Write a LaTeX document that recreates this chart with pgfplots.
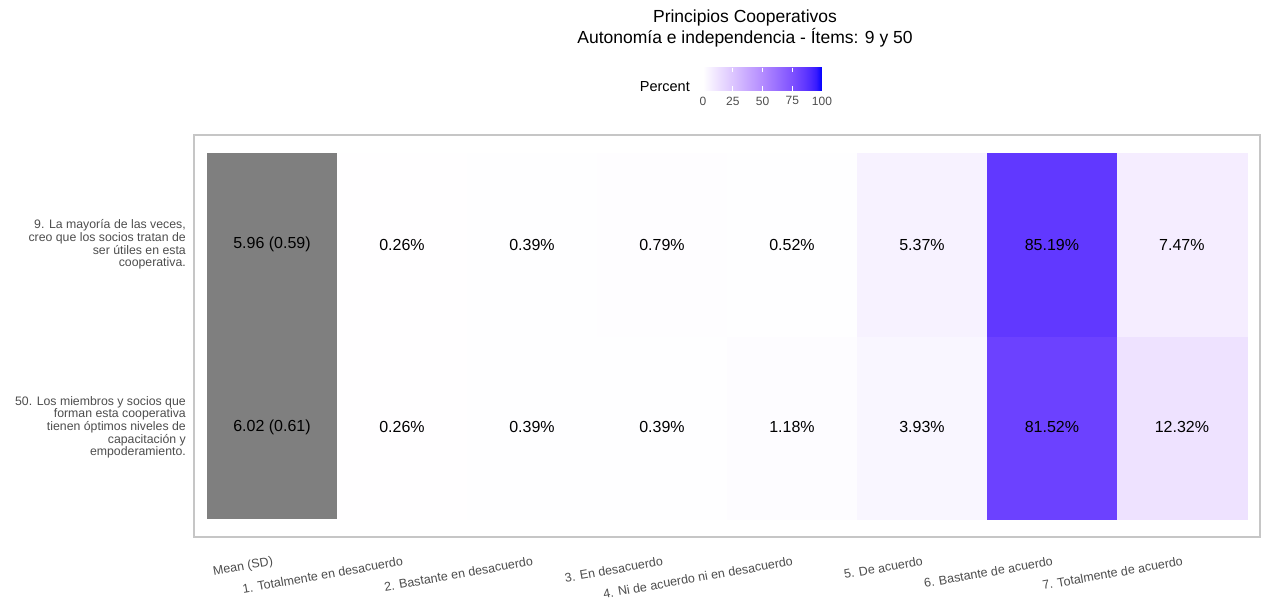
\documentclass[border=0pt]{standalone}
\usepackage{fontspec}
\setmainfont{Liberation Sans}
\usepackage{pgfplots}
\pgfplotsset{compat=1.18}
\usepackage{pgfplotstable}

\definecolor{axistext}{HTML}{4D4D4D}
\definecolor{meanfill}{HTML}{7F7F7F}
\definecolor{panelborder}{HTML}{C6C6C6}

% white -> blue gradient (interpolated in Lab space, sampled)
\pgfplotsset{
  colormap={whiteblue}{
    rgb255(0cm)=(255,255,255)
    rgb255(5cm)=(248,243,255)
    rgb255(10cm)=(241,231,255)
    rgb255(25cm)=(220,197,255)
    rgb255(50cm)=(179,139,255)
    rgb255(75cm)=(126,81,255)
    rgb255(85cm)=(98,57,255)
    rgb255(90cm)=(80,43,255)
    rgb255(95cm)=(55,27,255)
    rgb255(100cm)=(0,0,255)
  },
  /pgf/number format/assume math mode=true,
}

% percentage of answers per item (y=1: item 9, y=0: item 50)
\pgfplotstableread{
x y v
1 0 0.26
2 0 0.39
3 0 0.39
4 0 1.18
5 0 3.93
6 0 81.52
7 0 12.32
1 1 0.26
2 1 0.39
3 1 0.79
4 1 0.52
5 1 5.37
6 1 85.19
7 1 7.47
}\pcttable

% mean and standard deviation per item
\pgfplotstableread{
x y m sd
0 1 5.96 0.59
0 0 6.02 0.61
}\meantable

\newcommand\cellfont{\fontsize{16}{19}\selectfont}
\newcommand\yfont{\fontsize{12.3}{12.6}\selectfont}
\newcommand\xfont{\fontsize{12.5}{15}\selectfont}
\newcommand\numfmt{\pgfmathprintnumber[fixed, fixed zerofill, precision=2, assume math mode=true]}

\begin{document}
\begin{tikzpicture}
\path[use as bounding box] (0,0) rectangle (1264pt,-610pt);

\begin{axis}[
  at={(194pt,-537pt)}, anchor=south west,
  scale only axis, width=1066pt, height=402pt,
  xmin=-0.6, xmax=7.6, ymin=-0.6, ymax=1.6,
  axis line style={draw=panelborder, line width=1.3pt},
  xtick=\empty, ytick=\empty,
  clip=false,
  colormap name=whiteblue,
  point meta min=0, point meta max=100,
  colorbar horizontal,
  colorbar/width=23pt,
  colorbar style={
    at={(parent axis.north west)}, anchor=north west,
    xshift=509pt, yshift=76pt,
    scale only axis, width=119pt,
    axis line style={draw=none},
    xtick={0,25,50,75,100},
    xticklabels={0,25,50,75,100},
    xticklabel style={font=\fontsize{12}{14}\selectfont, text=axistext, inner sep=0pt},
    xticklabel shift=6pt,
    tick align=inside,
    xtick pos=both,
    major tick length=4.6pt,
    tick style={draw=white, line width=0.6pt},
    ytick=\empty,
  },
]
% mean column
\addplot[draw=none, fill=meanfill] coordinates {(-0.5,-0.5) (0.5,-0.5) (0.5,1.5) (-0.5,1.5)} -- cycle;

% percentage tiles
\addplot[matrix plot*, mesh/cols=7, mesh/rows=2, point meta=\thisrow{v}]
  table[x=x, y=y] {\pcttable};

% percentage labels
\addplot[only marks, mark=*, mark size=0pt, mark options={draw=none, fill=none},
  point meta=\thisrow{v},
  nodes near coords={\numfmt{\pgfplotspointmeta}\%},
  every node near coord/.style={anchor=center, font=\cellfont, text=black}]
  table[x=x, y=y] {\pcttable};

% mean (SD) labels
\addplot[only marks, mark=*, mark size=0pt, mark options={draw=none, fill=none},
  point meta=\thisrow{m},
  visualization depends on={\thisrow{sd} \as \sdval},
  nodes near coords={\numfmt{\pgfplotspointmeta} (\numfmt{\sdval})},
  every node near coord/.style={anchor=center, font=\cellfont, text=black}]
  table[x=x, y=y] {\meantable};

% item labels
\node[anchor=east, align=right, font=\yfont, text=axistext, inner sep=0pt]
  at ([xshift=-8pt]axis cs:-0.6,1)
  {9. La mayoría de las veces,\\creo que los socios tratan de\\ser útiles en esta\\cooperativa.};
\node[anchor=east, align=right, font=\yfont, text=axistext, inner sep=0pt]
  at ([xshift=-8pt]axis cs:-0.6,0)
  {50. Los miembros y socios que\\forman esta cooperativa\\tienen óptimos niveles de\\capacitación y\\empoderamiento.};

% answer category labels
\tikzset{catlab/.style={anchor=north east, rotate=10, font=\xfont, text=axistext, inner sep=0pt}}
\node[catlab] at ([yshift=-19pt]axis cs:0,-0.6) {Mean (SD)};
\node[catlab] at ([yshift=-19pt]axis cs:1,-0.6) {1. Totalmente en desacuerdo};
\node[catlab] at ([yshift=-19pt]axis cs:2,-0.6) {2. Bastante en desacuerdo};
\node[catlab] at ([yshift=-19pt]axis cs:3,-0.6) {3. En desacuerdo};
\node[catlab] at ([yshift=-19pt]axis cs:4,-0.6) {4. Ni de acuerdo ni en desacuerdo};
\node[catlab] at ([yshift=-19pt]axis cs:5,-0.6) {5. De acuerdo};
\node[catlab] at ([yshift=-19pt]axis cs:6,-0.6) {6. Bastante de acuerdo};
\node[catlab] at ([yshift=-19pt]axis cs:7,-0.6) {7. Totalmente de acuerdo};
\end{axis}

% title
\node[anchor=north, align=center, font=\fontsize{17.5}{21}\selectfont, inner sep=0pt]
  at (745pt,-10pt) {Principios Cooperativos\\Autonomía e independencia - Ítems: 9 y 50};

% legend title
\node[anchor=base east, font=\fontsize{14.5}{17}\selectfont, inner sep=0pt]
  at (690pt,-92pt) {Percent};
\end{tikzpicture}
\end{document}
